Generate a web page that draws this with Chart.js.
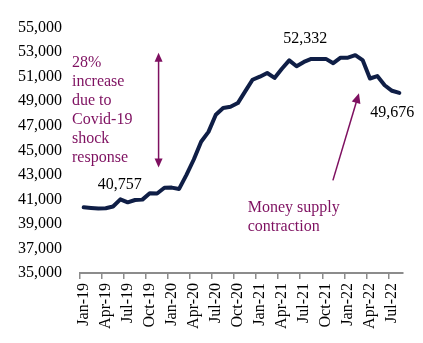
<!DOCTYPE html>
<html>
<head>
<meta charset="utf-8">
<script src="https://cdn.jsdelivr.net/npm/chart.js@4/dist/chart.umd.min.js"></script>
<style>
  html, body { margin: 0; padding: 0; background: #ffffff; }
  #wrap { width: 423px; height: 343px; position: relative; }
</style>
</head>
<body>
<div id="wrap"><canvas id="c" width="423" height="343"></canvas></div>
<script>
const categories = [
  'Jan-19','Feb-19','Mar-19','Apr-19','May-19','Jun-19','Jul-19','Aug-19','Sep-19','Oct-19','Nov-19','Dec-19',
  'Jan-20','Feb-20','Mar-20','Apr-20','May-20','Jun-20','Jul-20','Aug-20','Sep-20','Oct-20','Nov-20','Dec-20',
  'Jan-21','Feb-21','Mar-21','Apr-21','May-21','Jun-21','Jul-21','Aug-21','Sep-21','Oct-21','Nov-21','Dec-21',
  'Jan-22','Feb-22','Mar-22','Apr-22','May-22','Jun-22','Jul-22','Aug-22'
];
const moneySupply = [
  40350, 40300, 40260, 40280, 40420, 41000, 40757, 40950, 40980, 41500, 41480, 41950,
  41960, 41850, 43000, 44250, 45700, 46500, 47900, 48450, 48550, 48850, 49800, 50750,
  51000, 51300, 50900, 51650, 52332, 51850, 52200, 52450, 52450, 52450, 52100, 52550,
  52550, 52750, 52350, 50850, 51050, 50300, 49850, 49676
];
const yTicks = [35000, 37000, 39000, 41000, 43000, 45000, 47000, 49000, 51000, 53000, 55000];
const dataLabels = [
  { index: 6, value: 40757, text: '40,757', dx: -8, dy: -18 },
  { index: 28, value: 52332, text: '52,332', dx: 16, dy: -22 },
  { index: 43, value: 49676, text: '49,676', dx: -7, dy: 20 }
];
const covidNote = ['28%', 'increase', 'due to', 'Covid-19', 'shock', 'response'];
const contractionNote = ['Money supply', 'contraction'];

const MAGENTA = '#7e1060';
const SERIF = '"Liberation Serif", "Times New Roman", serif';

function arrowHead(ctx, x1, y1, x2, y2, len, half) {
  const a = Math.atan2(y2 - y1, x2 - x1);
  ctx.beginPath();
  ctx.moveTo(x2, y2);
  ctx.lineTo(x2 - len * Math.cos(a) + half * Math.sin(a), y2 - len * Math.sin(a) - half * Math.cos(a));
  ctx.lineTo(x2 - len * Math.cos(a) - half * Math.sin(a), y2 - len * Math.sin(a) + half * Math.cos(a));
  ctx.closePath();
  ctx.fill();
}

const annotationPlugin = {
  id: 'annot',
  afterDraw(chart) {
    const ctx = chart.ctx;
    const xs = chart.scales.x, ys = chart.scales.y;
    ctx.save();
    // data labels
    ctx.font = '16px ' + SERIF;
    ctx.fillStyle = '#000000';
    ctx.textAlign = 'center';
    ctx.textBaseline = 'middle';
    dataLabels.forEach(d => {
      ctx.fillText(d.text, xs.getPixelForValue(d.index) + d.dx, ys.getPixelForValue(d.value) + d.dy);
    });
    // covid note
    ctx.fillStyle = MAGENTA;
    ctx.textAlign = 'left';
    const nx = xs.left - 8;
    let ny = ys.getPixelForValue(52100);
    covidNote.forEach(t => { ctx.fillText(t, nx, ny); ny += 19; });
    // contraction note
    const cx = xs.getPixelForValue(22) + 2.5;
    let cy = ys.getPixelForValue(40350);
    contractionNote.forEach(t => { ctx.fillText(t, cx, cy); cy += 19.5; });
    // double arrow
    ctx.strokeStyle = MAGENTA;
    ctx.fillStyle = MAGENTA;
    ctx.lineWidth = 1.5;
    const ax = xs.getPixelForValue(10) + 1.5;
    const aTop = ys.getPixelForValue(52950);
    const aBot = ys.getPixelForValue(43600);
    ctx.beginPath();
    ctx.moveTo(ax, aTop + 6);
    ctx.lineTo(ax, aBot - 6);
    ctx.stroke();
    arrowHead(ctx, ax, aBot, ax, aTop, 9, 4);
    arrowHead(ctx, ax, aTop, ax, aBot, 9, 4);
    // contraction arrow
    const bx1 = xs.getPixelForValue(33.95), by1 = ys.getPixelForValue(42550);
    const bx2 = xs.getPixelForValue(37.5), by2 = ys.getPixelForValue(49650);
    const ang = Math.atan2(by2 - by1, bx2 - bx1);
    ctx.beginPath();
    ctx.moveTo(bx1, by1);
    ctx.lineTo(bx2 - 6 * Math.cos(ang), by2 - 6 * Math.sin(ang));
    ctx.stroke();
    arrowHead(ctx, bx1, by1, bx2, by2, 10, 4.5);
    ctx.restore();
  }
};

new Chart(document.getElementById('c'), {
  type: 'line',
  data: {
    labels: categories,
    datasets: [{
      data: moneySupply,
      borderColor: '#0f1e46',
      borderWidth: 4,
      pointRadius: 0,
      tension: 0,
      fill: false,
      borderJoinStyle: 'round',
      borderCapStyle: 'round'
    }]
  },
  options: {
    responsive: false,
    animation: false,
    devicePixelRatio: 1,
    layout: { padding: { top: 22, right: 20, left: 0, bottom: 0 } },
    plugins: { legend: { display: false }, tooltip: { enabled: false } },
    scales: {
      x: {
        type: 'category',
        offset: true,
        afterFit(s) { s.height = 70; },
        grid: {
          offset: true,
          drawOnChartArea: false,
          drawTicks: true,
          tickLength: 6,
          lineWidth: 1.5,
          color: ctx => (ctx.index !== undefined && ctx.index % 3 === 0) ? '#8c8c8c' : 'rgba(0,0,0,0)'
        },
        border: { display: true, color: '#8c8c8c', width: 2 },
        ticks: {
          autoSkip: false,
          minRotation: 90,
          maxRotation: 90,
          padding: 4,
          color: '#000000',
          font: { family: SERIF, size: 16 },
          callback: function(v, i) { return i % 3 === 0 ? categories[i] : ''; }
        }
      },
      y: {
        min: 35000,
        max: 55000,
        afterFit(s) { s.width = 80; },
        afterBuildTicks(s) { s.ticks = yTicks.map(v => ({ value: v })); },
        grid: { display: false, drawTicks: false },
        border: { display: false },
        ticks: {
          padding: 18,
          color: '#000000',
          font: { family: SERIF, size: 16 },
          callback: v => v.toLocaleString('en-US')
        }
      }
    }
  },
  plugins: [annotationPlugin]
});
</script>
</body>
</html>
